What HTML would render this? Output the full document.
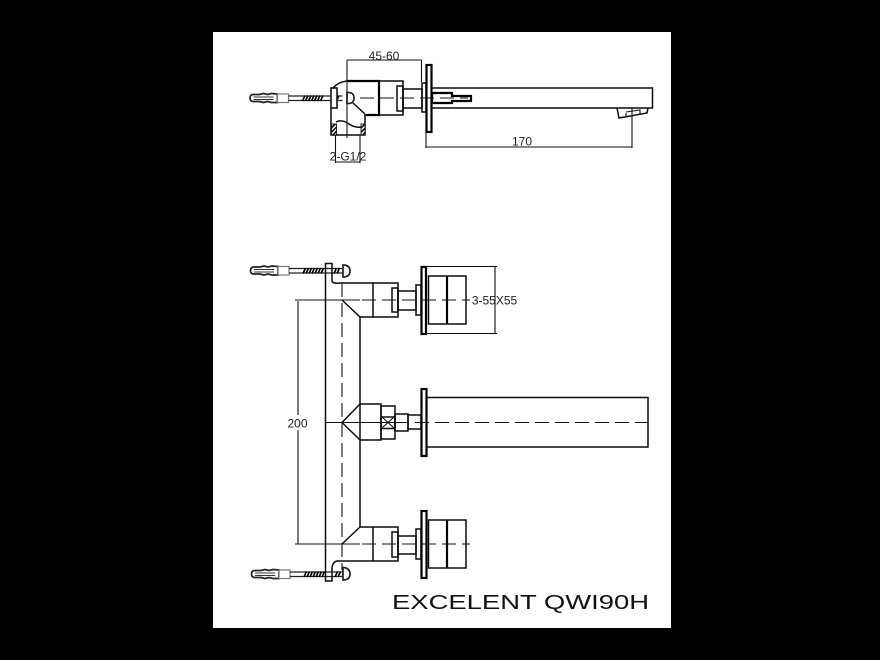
<!DOCTYPE html>
<html><head><meta charset="utf-8"><style>
html,body{margin:0;padding:0;background:#000;width:880px;height:660px;overflow:hidden}
svg{display:block}
.draw{filter:blur(.3px)}
text{font-family:"Liberation Sans",sans-serif;font-size:12px;fill:#222;text-anchor:middle}
.l{fill:none;stroke:#0c0c0c;stroke-width:1.5}
.t{fill:none;stroke:#000;stroke-width:2.2}
.d{fill:none;stroke:#111;stroke-width:1.1}
.c{fill:none;stroke:#111;stroke-width:1.1;stroke-dasharray:14 6}
.g{fill:#fff;stroke:#222;stroke-width:1.7}
</style></head><body>
<svg width="880" height="660" viewBox="0 0 880 660" xmlns="http://www.w3.org/2000/svg">
<rect x="0" y="0" width="880" height="660" fill="#000"/>
<rect x="213" y="32" width="458" height="596" fill="#fff"/>
<defs>
<pattern id="hat" width="3" height="3" patternUnits="userSpaceOnUse" patternTransform="rotate(45)"><rect width="3" height="3" fill="#fff"/><rect width="1.6" height="3" fill="#111"/></pattern>
<g id="anchor">
<path class="g" d="M278 -4 L272 -4.500 L268 -3.500 L264 -4.500 L260 -3.500 L254 -3.500 Q250.500 -3.500 250.500 0 Q250.500 3.500 254 3.500 L260 3.500 L264 4.500 L268 3.500 L272 4.500 L278 4.500 Z"/>
<path d="M254 -1H274M254 1.500H274" stroke="#333" stroke-width="1.100" fill="none"/>
<rect x="278" y="-4" width="11" height="8.500" fill="#fff" stroke="#777" stroke-width="1.200"/>
<path d="M289 -2H343M289 2.500H343" stroke="#222" stroke-width="1.200" fill="none"/>
<path d="M303 3L305.500 -2.500M306 3L308.500 -2.500M309 3L311.500 -2.500M312 3L314.500 -2.500M315 3L317.500 -2.500M318 3L320.500 -2.500M321 3L323.500 -2.500M334 3L336.500 -2.500M337 3L339.500 -2.500" stroke="#000" stroke-width="1.600"/>
</g>
</defs>
<g class="draw">
<!-- TOP VIEW -->
<use href="#anchor" x="-.5" y="98"/>
<path d="M347 92.500 Q354 92 354 98 Q354 104 347 103.500 Z" class="g" stroke-width="1.300"/>
<rect x="331" y="88" width="6" height="20" class="g" stroke-width="1.500"/>
<path class="l" d="M331 108V135H365V115H403V81H347Q338 82 333 88"/>
<path class="t" d="M347 81H379V115H366"/>
<path class="l" d="M353 103L365 114"/>
<path class="l" d="M336 122Q342 119 349 124Q355 128 361 127"/>
<rect x="331.500" y="124" width="5" height="11" fill="url(#hat)" stroke="#111" stroke-width=".9"/>
<rect x="361" y="124" width="4" height="11" fill="url(#hat)" stroke="#111" stroke-width=".9"/>
<rect x="397" y="86" width="6" height="25" class="l"/>
<rect x="403" y="89" width="19" height="19" class="l"/>
<rect x="422" y="83" width="4" height="29" class="l"/>
<rect x="426.500" y="65" width="5" height="67" class="t"/>
<path class="c" d="M360 98H468"/>
<path class="l" d="M432 88H652.500V108H432"/>
<path class="t" d="M432 93H452V96H471V101H452V103H432Z" stroke-width="1.700"/>
<path class="l" d="M617 108L619 118L647 113L648 108"/>
<path class="d" d="M626 113V117M626 112L640 110V114"/>
<!-- top dims -->
<path class="d" d="M347 60H421.500M347 60V138M421.500 60V82"/>
<text x="384" y="60">45-60</text>
<path class="d" d="M426 132V148M632 108V148M426 147H632"/>
<text x="522" y="145.500">170</text>
<path class="d" d="M335.500 135V163M360 135V163M335.500 162H360"/>
<text x="348" y="160.500">2-G1/2</text>

<!-- FRONT VIEW -->
<use href="#anchor" x="0" y="270.500"/>
<path class="g" d="M343 265 Q350 265 350 271 Q350 277 343 277 Z" stroke-width="1.300"/>
<use href="#anchor" x="1" y="574"/>
<path class="g" d="M343 567.500 Q350 568 350 574 Q350 580 343 580 Z" stroke-width="1.300"/>

<path class="l" d="M325.500 263.500H332V281Q333 284 340 283H398V317H360V527H398V561H340Q333 560 332 568V581H325.500Z"/>
<path class="l" d="M373 283V317M342 300L360 317M373 527V561M342 544L360 527"/>

<!-- top handle -->
<rect x="392" y="288" width="6" height="24" class="l"/>
<rect x="398" y="291" width="18" height="19" class="l"/>
<rect x="416" y="285" width="5" height="30" class="l"/>
<rect x="421.500" y="267" width="4.500" height="67" class="t"/>
<rect x="428.500" y="276" width="37.500" height="48" class="l"/>
<path class="t" d="M447 276V324"/>
<path class="d" d="M295 300H360"/>
<path class="c" d="M362 300H470"/>
<path class="c" d="M342 283V570"/>
<path class="d" d="M426 266.500H497M426 333.500H497M495 267V333"/>
<text x="494.500" y="304.500">3-55X55</text>

<!-- middle -->
<path class="l" d="M360 404H381V440H360M342 422.500L360 404M342 422.500L360 440"/>
<rect x="381" y="406" width="14" height="33" class="l"/>
<rect x="381" y="417" width="14" height="11.500" class="l"/>
<path class="d" d="M382 417L394 428M394 417L382 428"/>
<rect x="395" y="414" width="13" height="17" class="l"/>
<rect x="408" y="415" width="13" height="14" class="l"/>
<rect x="421.500" y="389" width="5" height="67" class="t"/>
<path class="l" d="M427 397.500H648V447H427"/>
<path class="d" d="M325.500 422.500H395"/>
<path class="c" d="M395 422.500H648"/>
<path class="d" d="M298 301V415M298 430V544"/>
<text x="297.500" y="427.500">200</text>

<!-- bottom handle -->
<rect x="392" y="532" width="6" height="25" class="l"/>
<rect x="398" y="536" width="18" height="18" class="l"/>
<rect x="416" y="529" width="5" height="30" class="l"/>
<rect x="421.500" y="511" width="5" height="67" class="t"/>
<rect x="428.500" y="520" width="37.500" height="48" class="l"/>
<path class="t" d="M447 520V568"/>
<path class="d" d="M295 544H360"/>
<path class="c" d="M362 544H470"/>

<!-- title -->
<text x="392" y="609" textLength="257" lengthAdjust="spacingAndGlyphs" style="font-family:'Liberation Sans',sans-serif;font-size:20px;fill:#111;text-anchor:start">EXCELENT QWI90H</text>
</g>
</svg>
</body></html>
